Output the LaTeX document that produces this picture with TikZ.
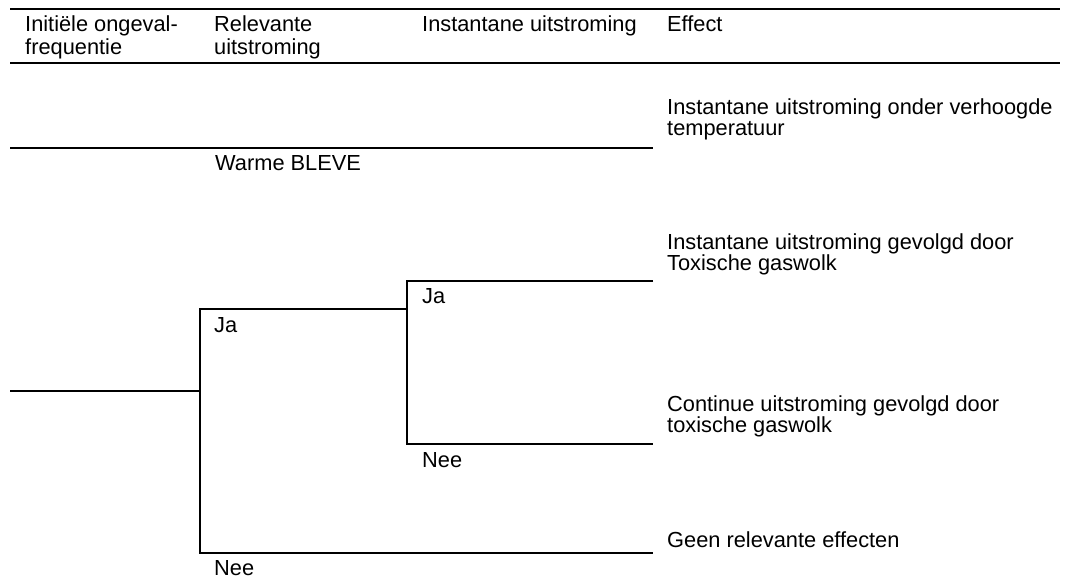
\documentclass[tikz,border=0pt]{standalone}
\usepackage{fontspec}
\setmainfont{Liberation Sans}
\newcommand{\twolines}[2]{\vtop{\hbox{#1}\hbox{#2}}}
\begin{document}
\begin{tikzpicture}[x=1pt,y=-1pt,
  rule/.style={line width=2pt},
  branch/.style={line width=2pt,line join=miter},
  txt/.style={anchor=base west,inner sep=0pt,font=\fontsize{21.8}{21}\selectfont},
  headtxt/.style={txt,font=\fontsize{21.8}{23.5}\selectfont}]
\useasboundingbox (0,0) rectangle (1066,579);

% header rules
\coordinate (t0) at (10,9);   \coordinate (t1) at (1060,9);
\coordinate (h0) at (10,63);  \coordinate (h1) at (1060,63);
\draw[rule] (t0) -- (t1);
\draw[rule] (h0) -- (h1);

% column headings
\node[headtxt] (c1) at (25,31)  {\twolines{Initiële ongeval-}{frequentie}};
\node[headtxt] (c2) at (214,31) {\twolines{Relevante}{uitstroming}};
\node[headtxt] (c3) at (422,31) {Instantane uitstroming};
\node[headtxt] (c4) at (667,31) {Effect};

% branch points
\coordinate (w0) at (10,148);   \coordinate (w1) at (653,148);
\coordinate (r0) at (10,391);   \coordinate (r1) at (200,391);
\coordinate (ja1) at (200,309); \coordinate (ja1e) at (407,309);
\coordinate (nee1) at (200,553);\coordinate (nee1e) at (653,553);
\coordinate (ja2) at (407,281); \coordinate (ja2e) at (653,281);
\coordinate (nee2) at (407,444);\coordinate (nee2e) at (653,444);

% event tree
\draw[branch] (w0) -- (w1);
\draw[branch] (r0) -- (r1);
\draw[branch] (ja1e) -- (ja1) -- (nee1) -- (nee1e);
\draw[branch] (ja2e) -- (ja2) -- (nee2) -- (nee2e);

% branch labels
\node[txt] (lw)    at (215,170) {Warme BLEVE};
\node[txt] (lja1)  at (214,332) {Ja};
\node[txt] (lnee1) at (214,575) {Nee};
\node[txt] (lja2)  at (422,303) {Ja};
\node[txt] (lnee2) at (422,467) {Nee};

% effects
\node[txt] (e1) at (667,114) {\twolines{Instantane uitstroming onder verhoogde}{temperatuur}};
\node[txt] (e2) at (667,249) {\twolines{Instantane uitstroming gevolgd door}{Toxische gaswolk}};
\node[txt] (e3) at (667,411) {\twolines{Continue uitstroming gevolgd door}{toxische gaswolk}};
\node[txt] (e4) at (667,547) {Geen relevante effecten};
\end{tikzpicture}
\end{document}
